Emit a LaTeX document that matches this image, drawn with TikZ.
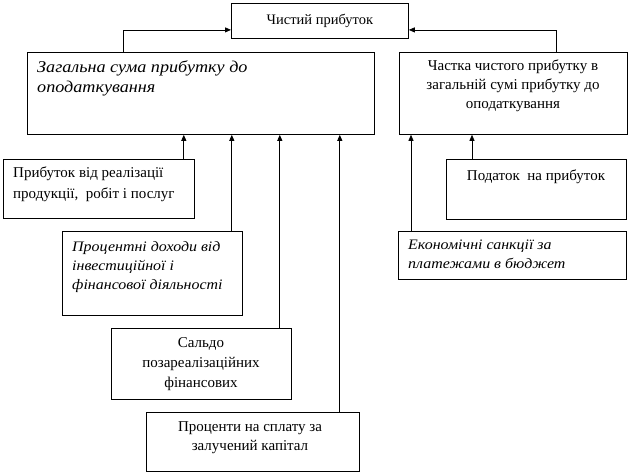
\documentclass[tikz,border=0pt]{standalone}
\usepackage{fontspec}
\setmainfont{Liberation Serif}
\newfontfamily\wideit[FakeStretch=1.1]{Liberation Serif}
\usetikzlibrary{arrows.meta}

\tikzset{
	box/.style={draw, line width=0.8pt, anchor=north west, inner sep=0pt},
	txt/.style={inner sep=0pt, font=\fontsize{15}{19}\selectfont},
	itxt/.style={inner sep=0pt, anchor=north west, align=left, font=\fontsize{14.5}{19}\selectfont\wideit\itshape},
	arr/.style={line width=0.8pt, -{Triangle[length=6pt,width=5pt]}}
}

\begin{document}
\begin{tikzpicture}[x=1pt, y=-1pt]
	\useasboundingbox (0,0) rectangle (630,474);

	% boxes
	\node[box, minimum width=177pt, minimum height=35pt]	(net)		at (231,3) {};
	\node[box, minimum width=347pt, minimum height=82pt]	(sum)		at (27,52) {};
	\node[box, minimum width=228pt, minimum height=82pt]	(share)		at (399,52) {};
	\node[box, minimum width=191pt, minimum height=59pt]	(sales)		at (3,159) {};
	\node[box, minimum width=180pt, minimum height=84pt]	(interest)	at (62,231) {};
	\node[box, minimum width=180pt, minimum height=71pt]	(saldo)		at (111,328) {};
	\node[box, minimum width=213pt, minimum height=59pt]	(loan)		at (146,412) {};
	\node[box, minimum width=180pt, minimum height=60pt]	(tax)		at (446,159) {};
	\node[box, minimum width=228pt, minimum height=48pt]	(sanct)		at (398,231) {};

	% texts
	\node[txt, font=\fontsize{14.5}{19}\selectfont]	(netT)	at (net.center) {Чистий прибуток};
	\node[itxt, font=\fontsize{16.5}{20}\selectfont\wideit\itshape]	(sumT)	at (37,60)
		{Загальна сума прибутку до\\оподаткування};
	\node[txt, anchor=north, align=center]	(shareT)	at (513,60)
		{Частка чистого прибутку в\\загальній сумі прибутку до\\оподаткування};
	\node[txt, anchor=north west, align=left, font=\fontsize{15}{21}\selectfont]	(salesT)	at (13,167)
		{Прибуток від реалізації\\продукції,\ \ робіт і послуг};
	\node[itxt]	(interestT)	at (72,241)
		{Процентні доходи від\\інвестиційної і\\фінансової діяльності};
	\node[txt, anchor=north, align=center, font=\fontsize{15}{20}\selectfont]	(saldoT)	at (201,337)
		{Сальдо\\позареалізаційних\\фінансових};
	\node[txt, anchor=north, align=center]	(loanT)	at (250,421)
		{Проценти на сплату за\\залучений капітал};
	\node[txt, anchor=north]	(taxT)		at (536,170) {Податок\ \ на прибуток};
	\node[itxt]	(sanctT)	at (408,240)
		{Економічні санкції за\\платежами в бюджет};

	% connectors
	\coordinate (up1) at ([xshift=96pt]sum.north west);
	\coordinate (up2) at ([xshift=-71pt]share.north east);
	\draw[arr] (up1) |- ([yshift=-9pt]net.west);
	\draw[arr] (up2) |- ([yshift=-9pt]net.east);

	\coordinate (in1) at ([xshift=-11pt]sales.north east);
	\coordinate (in2) at ([xshift=-11pt]interest.north east);
	\coordinate (in3) at ([xshift=-12pt]saldo.north east);
	\coordinate (in4) at ([xshift=-20pt]loan.north east);
	\coordinate (in5) at ([xshift=13pt]sanct.north west);
	\coordinate (in6) at ([xshift=26pt]tax.north west);
	\foreach \c in {in1,in2,in3,in4}
		\draw[arr] (\c) -- (\c |- sum.south);
	\foreach \c in {in5,in6}
		\draw[arr] (\c) -- (\c |- share.south);
\end{tikzpicture}
\end{document}
